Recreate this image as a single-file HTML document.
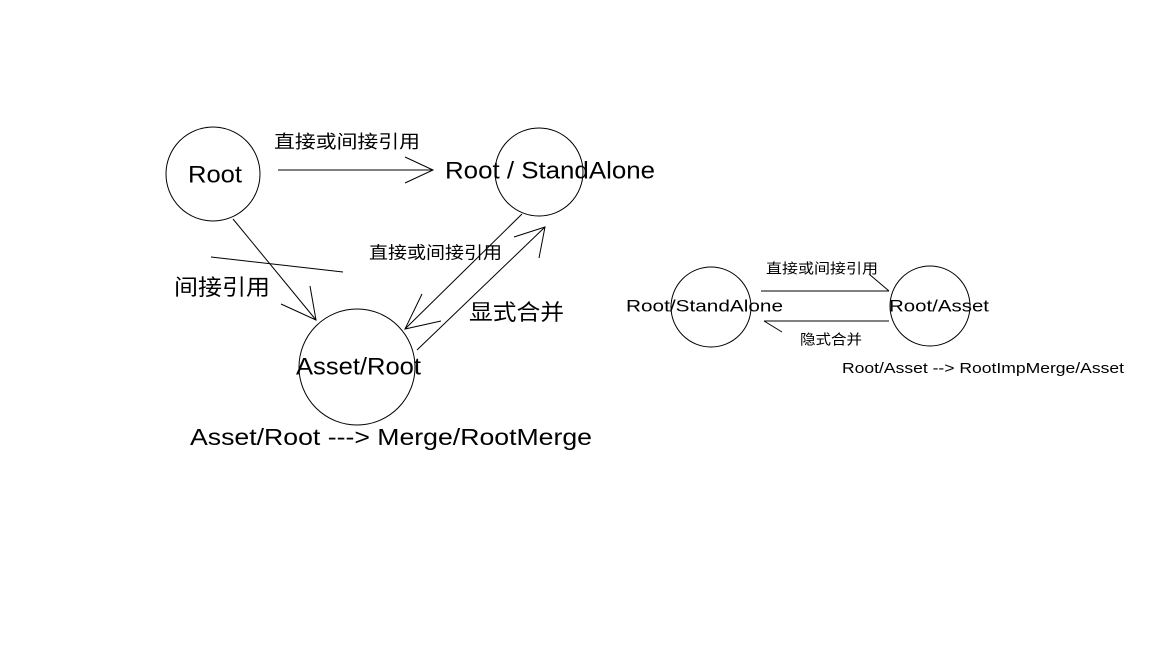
<!DOCTYPE html>
<html><head><meta charset="utf-8"><style>
html,body{margin:0;padding:0;background:#fff;}
svg{display:block;}
text{font-family:"Liberation Sans","Noto Sans CJK SC",sans-serif;fill:#000;dominant-baseline:middle;}
</style></head><body>
<svg width="1152" height="648" viewBox="0 0 1152 648" xmlns="http://www.w3.org/2000/svg">
<g fill="none" stroke="#000" stroke-width="1">
<circle cx="213" cy="174" r="47"/>
<circle cx="539" cy="172" r="44"/>
<circle cx="357" cy="367" r="58"/>
<line x1="278" y1="170" x2="433" y2="170"/>
<polyline points="405,157 433,170 405,183"/>
<line x1="233" y1="219" x2="316" y2="320"/>
<polyline points="281,304 316,320 310,286"/>
<line x1="211" y1="257" x2="343" y2="272"/>
<line x1="522" y1="214" x2="405" y2="329"/>
<polyline points="422,294 405,329 441,321"/>
<line x1="417" y1="350" x2="545" y2="227"/>
<polyline points="514,237 545,227 539,258"/>
<circle cx="711" cy="307" r="40"/>
<circle cx="930" cy="306" r="40"/>
<line x1="761" y1="291" x2="889" y2="291"/>
<line x1="869" y1="274" x2="889" y2="291"/>
<line x1="764" y1="321" x2="889" y2="321"/>
<line x1="764" y1="321" x2="782" y2="332"/>
</g>
<text x="274" y="143" font-size="18" textLength="146" lengthAdjust="spacingAndGlyphs">直接或间接引用</text>
<text x="188" y="176" font-size="24" textLength="54" lengthAdjust="spacingAndGlyphs">Root</text>
<text x="445" y="172" font-size="24" textLength="210" lengthAdjust="spacingAndGlyphs">Root / StandAlone</text>
<text x="369" y="254" font-size="17" textLength="133" lengthAdjust="spacingAndGlyphs">直接或间接引用</text>
<text x="174" y="289" font-size="22" textLength="96" lengthAdjust="spacingAndGlyphs">间接引用</text>
<text x="469" y="314" font-size="22" textLength="95" lengthAdjust="spacingAndGlyphs">显式合并</text>
<text x="296" y="368" font-size="24" textLength="125" lengthAdjust="spacingAndGlyphs">Asset/Root</text>
<text x="190" y="439" font-size="23" textLength="402" lengthAdjust="spacingAndGlyphs">Asset/Root ---&gt; Merge/RootMerge</text>
<text x="766" y="270" font-size="14" textLength="112" lengthAdjust="spacingAndGlyphs">直接或间接引用</text>
<text x="626" y="307" font-size="17" textLength="157" lengthAdjust="spacingAndGlyphs">Root/StandAlone</text>
<text x="889" y="307" font-size="17" textLength="100" lengthAdjust="spacingAndGlyphs">Root/Asset</text>
<text x="800" y="341" font-size="14" textLength="62" lengthAdjust="spacingAndGlyphs">隐式合并</text>
<text x="842" y="369" font-size="15" textLength="282" lengthAdjust="spacingAndGlyphs">Root/Asset --&gt; RootImpMerge/Asset</text>
</svg>
</body></html>
